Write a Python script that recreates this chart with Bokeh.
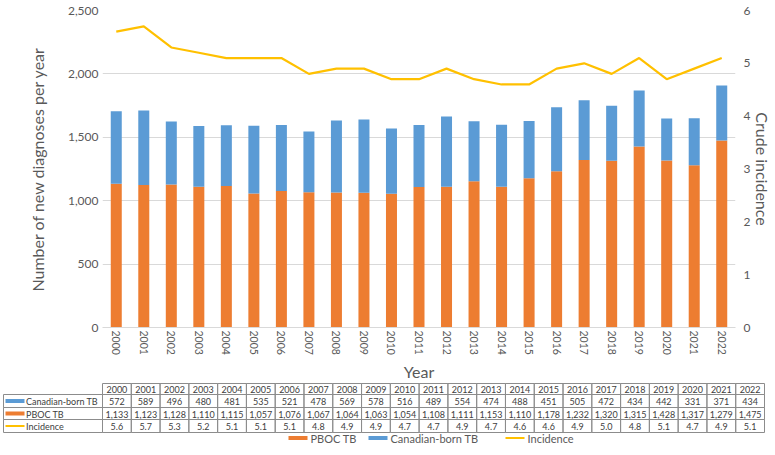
from bokeh.plotting import figure
from bokeh.models import (FactorRange, Range1d, LinearAxis, FixedTicker,
                          NumeralTickFormatter, ColumnDataSource)
from bokeh.core.properties import value
from bokeh.embed import file_html
from bokeh.resources import INLINE

# ---------------- data ----------------
years = [str(y) for y in range(2000, 2023)]
canadian_born = [572, 589, 496, 480, 481, 535, 521, 478, 569, 578, 516, 489,
                 554, 474, 488, 451, 505, 472, 434, 442, 331, 371, 434]
pboc = [1133, 1123, 1128, 1110, 1115, 1057, 1076, 1067, 1064, 1063, 1054, 1108,
        1111, 1153, 1110, 1178, 1232, 1320, 1315, 1428, 1317, 1279, 1475]
incidence = [5.6, 5.7, 5.3, 5.2, 5.1, 5.1, 5.1, 4.8, 4.9, 4.9, 4.7, 4.7,
             4.9, 4.7, 4.6, 4.6, 4.9, 5.0, 4.8, 5.1, 4.7, 4.9, 5.1]
left_ticks = [0, 500, 1000, 1500, 2000, 2500]
right_ticks = [0, 1, 2, 3, 4, 5, 6]

ORANGE = "#ED7D31"
BLUE = "#5B9BD5"
YELLOW = "#FFC000"
GRID = "#D9D9D9"
TXT = "#595959"
FONT = "Lato"


def style_axis(ax, label_size, standoff):
    ax.axis_line_color = None
    ax.major_tick_line_color = None
    ax.minor_tick_line_color = None
    ax.major_tick_out = 0
    ax.major_tick_in = 0
    ax.minor_tick_out = 0
    ax.minor_tick_in = 0
    ax.major_label_standoff = standoff
    ax.major_label_text_font = FONT
    ax.major_label_text_font_size = label_size
    ax.major_label_text_color = TXT
    ax.axis_label_text_font = FONT
    ax.axis_label_text_font_size = "16px"
    ax.axis_label_text_font_style = "normal"
    ax.axis_label_text_color = TXT


# ---------------- chart ----------------
src = ColumnDataSource(dict(year=years, pboc=pboc, cb=canadian_born, inc=incidence))

p = figure(x_range=FactorRange(*years), y_range=Range1d(0, 2500),
           width=775, height=358, output_backend="svg", toolbar_location=None,
           min_border_left=102, min_border_right=40, min_border_top=10,
           min_border_bottom=31)
p.outline_line_color = None
p.background_fill_color = "white"
p.border_fill_color = "white"

p.vbar_stack(["pboc", "cb"], x="year", width=0.4, color=[ORANGE, BLUE],
             line_color=None, source=src)
p.extra_y_ranges = {"inc": Range1d(0, 6)}
p.line(x="year", y="inc", y_range_name="inc", color=YELLOW, line_width=2.2, source=src)

p.xgrid.grid_line_color = None
p.ygrid.grid_line_color = GRID
p.ygrid.ticker = FixedTicker(ticks=left_ticks)

# left axis
ya = p.yaxis[0]
style_axis(ya, "12px", 4)
ya.ticker = FixedTicker(ticks=left_ticks)
ya.formatter = NumeralTickFormatter(format="0,0")
ya.axis_label = "Number of new diagnoses per year"
ya.axis_label_standoff = 18

# x axis
xa = p.xaxis[0]
style_axis(xa, "10.5px", 3)
xa.axis_line_color = GRID
xa.major_label_orientation = "vertical"

# right axis
ra = LinearAxis(y_range_name="inc", ticker=FixedTicker(ticks=right_ticks))
style_axis(ra, "12px", 8)
ra.axis_label = "Crude incidence"
ra.axis_label_standoff = 0
p.add_layout(ra, "right")

# ---------------- x title, data table + legend ----------------
t = figure(width=775, height=97, x_range=Range1d(0, 775), y_range=Range1d(455, 358),
           output_backend="svg", toolbar_location=None, min_border=0)
t.axis.visible = False
t.grid.visible = False
t.outline_line_color = None

# x-axis title, centred under the plot frame
t.text(x=[(102 + 735) / 2], y=[370.5], text=["Year"], text_font=value(FONT),
       text_font_size=value("16px"), text_color=TXT,
       text_align="center", text_baseline="middle")

n = len(years)
tab_left, tab_right = 102, 764
lab_left = 3
cw = (tab_right - tab_left) / n
row_edges = [383, 394, 407, 419, 432]
BORDER = "#8C8C8C"
TTXT = "#404040"

hl = [tab_left + i * cw for i in range(n)]
hr = [tab_left + (i + 1) * cw for i in range(n)]
hc = [tab_left + (i + 0.5) * cw for i in range(n)]
t.quad(left=hl, right=hr, top=[row_edges[0]] * n, bottom=[row_edges[1]] * n,
       fill_color=None, line_color=BORDER, line_width=1)
t.text(x=hc, y=[(row_edges[0] + row_edges[1]) / 2 + 0.5] * n, text=years,
       text_font=value(FONT), text_font_size=value("9px"), text_color=TTXT,
       text_align="center", text_baseline="middle")

rows = [
    ("Canadian-born TB", [f"{v:,}" for v in canadian_born], BLUE, 4),
    ("PBOC TB", [f"{v:,}" for v in pboc], ORANGE, 4),
    ("Incidence", [f"{v:.1f}" for v in incidence], YELLOW, 2),
]
for r, (name, vals, col, thick) in enumerate(rows):
    top, bot = row_edges[r + 1], row_edges[r + 2]
    mid = (top + bot) / 2 + 0.5
    t.quad(left=[lab_left], right=[tab_left], top=[top], bottom=[bot],
           fill_color=None, line_color=BORDER, line_width=1)
    t.quad(left=hl, right=hr, top=[top] * n, bottom=[bot] * n,
           fill_color=None, line_color=BORDER, line_width=1)
    t.text(x=hc, y=[mid] * n, text=vals, text_font=value(FONT),
           text_font_size=value("9px"), text_color=TTXT,
           text_align="center", text_baseline="middle")
    t.rect(x=[14.5], y=[mid - 0.5], width=19, height=thick, fill_color=col,
           line_color=None)
    t.text(x=[25.5], y=[mid], text=[name], text_font=value(FONT),
           text_font_size=value("9px"), text_color=TTXT,
           text_align="left", text_baseline="middle")

leg_y = 437.5
leg_items = [("PBOC TB", ORANGE, 4, 288), ("Canadian-born TB", BLUE, 4, 368),
             ("Incidence", YELLOW, 2, 505)]
for name, col, thick, x0 in leg_items:
    t.rect(x=[x0 + 9.5], y=[leg_y], width=19, height=thick, fill_color=col,
           line_color=None)
    t.text(x=[x0 + 22], y=[leg_y + 0.5], text=[name], text_font=value(FONT),
           text_font_size=value("11px"), text_color=TXT,
           text_align="left", text_baseline="middle")

open("out.html", "w").write(file_html([p, t], INLINE))
